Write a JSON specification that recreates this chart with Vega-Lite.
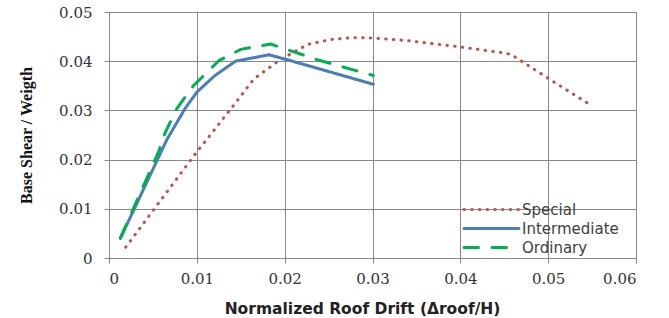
{
  "$schema": "https://vega.github.io/schema/vega-lite/v6.json",
  "width": 527,
  "height": 246,
  "autosize": {"type": "none"},
  "padding": {"left": 109, "top": 12, "right": 33, "bottom": 60},
  "background": "white",
  "config": {
    "view": {"stroke": null},
    "axis": {
      "gridColor": "#898989",
      "gridOpacity": 1,
      "gridWidth": 1,
      "domainColor": "#898989",
      "domainWidth": 1,
      "tickColor": "#898989",
      "tickSize": 5,
      "labelFont": "DejaVu Serif",
      "labelFontSize": 15,
      "labelColor": "#333333"
    }
  },
  "data": {
    "values": [
      {"series": "Special", "drift": 0.0019, "v": 0.0022},
      {"series": "Special", "drift": 0.0098, "v": 0.0211},
      {"series": "Special", "drift": 0.0140, "v": 0.0306},
      {"series": "Special", "drift": 0.0165, "v": 0.0364},
      {"series": "Special", "drift": 0.0191, "v": 0.0398},
      {"series": "Special", "drift": 0.0203, "v": 0.0411},
      {"series": "Special", "drift": 0.0226, "v": 0.0434},
      {"series": "Special", "drift": 0.0252, "v": 0.0444},
      {"series": "Special", "drift": 0.0278, "v": 0.0448},
      {"series": "Special", "drift": 0.0300, "v": 0.0447},
      {"series": "Special", "drift": 0.0339, "v": 0.0442},
      {"series": "Special", "drift": 0.0400, "v": 0.0429},
      {"series": "Special", "drift": 0.0453, "v": 0.0416},
      {"series": "Special", "drift": 0.0461, "v": 0.0410},
      {"series": "Special", "drift": 0.0501, "v": 0.0364},
      {"series": "Special", "drift": 0.0550, "v": 0.0309},
      {"series": "Intermediate", "drift": 0.0013, "v": 0.0040},
      {"series": "Intermediate", "drift": 0.0066, "v": 0.0241},
      {"series": "Intermediate", "drift": 0.0087, "v": 0.0305},
      {"series": "Intermediate", "drift": 0.0100, "v": 0.0337},
      {"series": "Intermediate", "drift": 0.0120, "v": 0.0370},
      {"series": "Intermediate", "drift": 0.0144, "v": 0.0400},
      {"series": "Intermediate", "drift": 0.0182, "v": 0.0413},
      {"series": "Intermediate", "drift": 0.0201, "v": 0.0404},
      {"series": "Intermediate", "drift": 0.0301, "v": 0.0353},
      {"series": "Ordinary", "drift": 0.0013, "v": 0.0041},
      {"series": "Ordinary", "drift": 0.0056, "v": 0.0214},
      {"series": "Ordinary", "drift": 0.0064, "v": 0.0255},
      {"series": "Ordinary", "drift": 0.0077, "v": 0.0303},
      {"series": "Ordinary", "drift": 0.0096, "v": 0.0350},
      {"series": "Ordinary", "drift": 0.0125, "v": 0.0401},
      {"series": "Ordinary", "drift": 0.0150, "v": 0.0424},
      {"series": "Ordinary", "drift": 0.0184, "v": 0.0435},
      {"series": "Ordinary", "drift": 0.0237, "v": 0.0403},
      {"series": "Ordinary", "drift": 0.0301, "v": 0.0371}
    ]
  },
  "mark": {"type": "line", "strokeCap": "round", "strokeJoin": "round"},
  "encoding": {
    "x": {
      "field": "drift", "type": "quantitative",
      "scale": {"domain": [0, 0.06], "nice": false},
      "axis": {
        "values": [0, 0.01, 0.02, 0.03, 0.04, 0.05, 0.06],
        "labelExpr": "datum.value == 0 ? '0' : format(datum.value, '.2f')",
        "labelPadding": 8,
        "title": "Normalized Roof Drift (Δroof/H)",
        "titleFont": "DejaVu Sans",
        "titleFontWeight": "bold",
        "titleFontSize": 15.5,
        "titleColor": "#222222",
        "titleX": 253,
        "titlePadding": 15
      }
    },
    "y": {
      "field": "v", "type": "quantitative",
      "scale": {"domain": [0, 0.05], "nice": false},
      "axis": {
        "values": [0, 0.01, 0.02, 0.03, 0.04, 0.05],
        "labelExpr": "datum.value == 0 ? '0' : format(datum.value, '.2f')",
        "labelPadding": 12,
        "title": "Base Shear / Weigth",
        "titleFont": "Liberation Serif",
        "titleFontWeight": "bold",
        "titleFontSize": 16,
        "titleColor": "#111111",
        "titlePadding": 24
      }
    },
    "color": {
      "field": "series", "type": "nominal",
      "scale": {"domain": ["Special", "Intermediate", "Ordinary"], "range": ["#c0504d", "#4a7ebb", "#00b050"]},
      "legend": {
        "title": null,
        "orient": "none",
        "legendX": 353,
        "legendY": 190,
        "symbolType": "M-1,0H9",
        "symbolSize": 121,
        "symbolStrokeWidth": 3,
        "labelFont": "DejaVu Sans",
        "labelFontSize": 15,
        "labelColor": "#404040",
        "labelOffset": 45,
        "rowPadding": 3,
        "encode": {"symbols": {"update": {"strokeCap": {"value": "round"}}}}
      }
    },
    "strokeDash": {
      "field": "series", "type": "nominal",
      "scale": {"domain": ["Special", "Intermediate", "Ordinary"], "range": [[0.5, 7.2], [1, 0], [14.5, 13.5]]},
      "legend": null
    },
    "strokeWidth": {
      "field": "series", "type": "nominal",
      "scale": {"domain": ["Special", "Intermediate", "Ordinary"], "range": [3, 3, 3.8]},
      "legend": null
    }
  }
}
